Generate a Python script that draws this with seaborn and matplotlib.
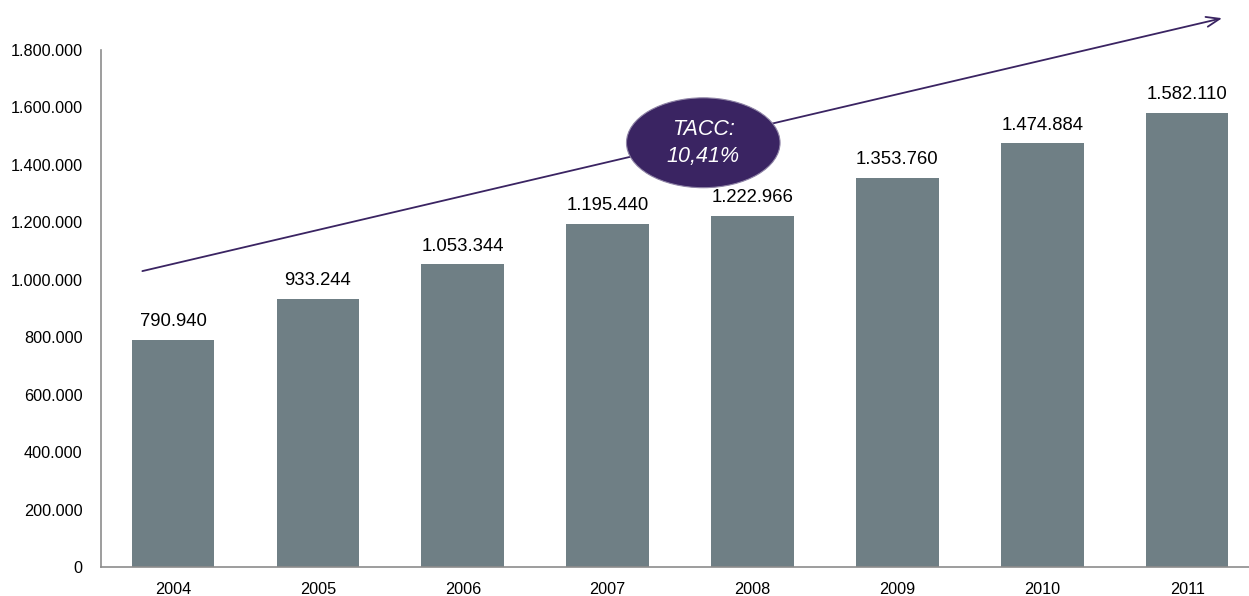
import pandas as pd
import seaborn as sns
import matplotlib.pyplot as plt
from matplotlib.patches import Ellipse

years = ["2004", "2005", "2006", "2007", "2008", "2009", "2010", "2011"]
values = [790940, 933244, 1053344, 1195440, 1222966, 1353760, 1474884, 1582110]
y_ticks = [0, 200000, 400000, 600000, 800000, 1000000, 1200000, 1400000, 1600000, 1800000]
growth_label = "TACC:\n10,41%"

bar_color = "#6f7f85"
purple = "#3a2462"


def dots(v):
    # thousands separated with dots, spanish style
    return f"{int(v):,}".replace(",", ".")


df = pd.DataFrame({"year": years, "value": values})

sns.set_theme(style="white")
plt.rcParams["font.family"] = ["Liberation Sans", "DejaVu Sans"]

fig = plt.figure(figsize=(12.49, 5.96), dpi=100)
ax = fig.add_axes([0.0805, 0.0487, 0.928, 0.8674])

sns.barplot(data=df, x="year", y="value", color=bar_color, width=0.57,
            saturation=1, linewidth=0, ax=ax)

ax.set_ylim(0, 1800000)
ax.set_xlim(-0.5, len(years) - 0.5)
ax.set_yticks(y_ticks)
ax.set_yticklabels([dots(t) for t in y_ticks])
ax.set_xlabel("")
ax.set_ylabel("")
ax.tick_params(axis="y", length=0, pad=13, labelsize=11.7, colors="black")
ax.tick_params(axis="x", length=0, pad=11, labelsize=11.7, colors="black")

for side in ["top", "right"]:
    ax.spines[side].set_visible(False)
for side in ["left", "bottom"]:
    ax.spines[side].set_color("#8c8c8c")
    ax.spines[side].set_linewidth(1.2)

ax.bar_label(ax.containers[0], labels=[dots(v) for v in values],
             padding=7, fontsize=13.3, color="black")

# growth arrow
ax.annotate("", xy=(7.26, 1913000), xytext=(-0.23, 1028000),
            arrowprops=dict(arrowstyle="->,head_length=0.8,head_width=0.3",
                            color=purple, lw=1.3),
            annotation_clip=False)

ell = Ellipse((3.66, 1477000), width=1.06, height=313000,
              facecolor=purple, edgecolor="#8f84a6", lw=0.8, zorder=5,
              clip_on=False)
ax.add_patch(ell)
ax.text(3.66, 1477000, growth_label, ha="center", va="center",
        fontsize=15.5, style="italic", color="white", zorder=6,
        linespacing=1.4)

plt.savefig("out.png", dpi=100)
